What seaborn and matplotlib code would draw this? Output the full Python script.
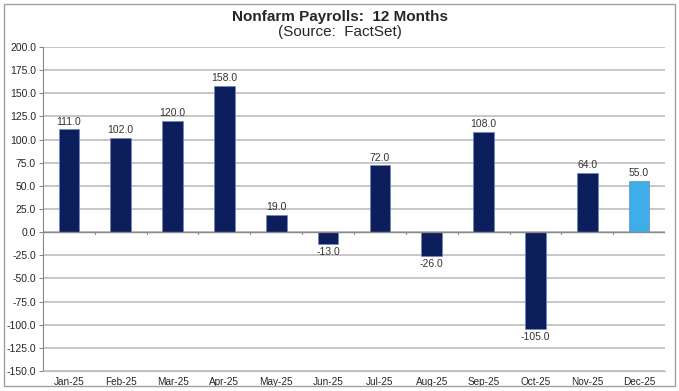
import pandas as pd
import matplotlib.pyplot as plt
import seaborn as sns
from matplotlib.patches import Rectangle

# Monthly nonfarm payroll changes (thousands)
months = ["Jan-25", "Feb-25", "Mar-25", "Apr-25", "May-25", "Jun-25",
          "Jul-25", "Aug-25", "Sep-25", "Oct-25", "Nov-25", "Dec-25"]
payrolls = [111.0, 102.0, 120.0, 158.0, 19.0, -13.0,
            72.0, -26.0, 108.0, -105.0, 64.0, 55.0]
yticks = [200, 175, 150, 125, 100, 75, 50, 25, 0, -25, -50, -75, -100, -125, -150]

navy = "#0c1f5c"
light = "#3daee9"
colors = [navy] * 11 + [light]

df = pd.DataFrame({"Month": months, "Payrolls": payrolls})

sns.set_style("white")
plt.rcParams['font.family'] = ['Liberation Sans', 'DejaVu Sans']

fig = plt.figure(figsize=(6.79, 3.91), dpi=100)
ax = fig.add_axes([43 / 679, 20 / 391, 622 / 679, 324 / 391])

sns.barplot(x="Month", y="Payrolls", data=df, hue="Month", palette=colors,
            order=months, width=0.4, legend=False, ax=ax, saturation=1,
            edgecolor="#6f86c8", linewidth=0.5, zorder=3)

ax.set_ylim(-150, 200)
ax.set_xlim(-0.5, 11.5)
ax.set_yticks(yticks)
ax.set_yticklabels([f"{v:.1f}" for v in yticks], fontsize=7.5)
ax.yaxis.grid(True, color="#bcbcbc", linewidth=1.2, zorder=0)
ax.set_axisbelow(True)
ax.set_xlabel("")
ax.set_ylabel("")
ax.tick_params(axis="y", length=3, color="#888888", pad=2, left=True)
ax.tick_params(axis="x", length=0, labelsize=7.2, pad=4)

for s in ["top", "right"]:
    ax.spines[s].set_visible(False)
ax.spines["left"].set_color("#888888")
ax.spines["bottom"].set_color("#bcbcbc")

# zero line with small category ticks
ax.axhline(0, color="#888888", linewidth=1, zorder=4)
for i in range(13):
    ax.plot([i - 0.5, i - 0.5], [0, -2.5], color="#888888", linewidth=0.8, zorder=4)

# value labels
for i, v in enumerate(payrolls):
    if v >= 0:
        ax.text(i, v + 3, f"{v:.1f}", ha="center", va="bottom", fontsize=7.5, color="#333333")
    else:
        ax.text(i, v - 3, f"{v:.1f}", ha="center", va="top", fontsize=7.5, color="#333333")

fig.text(340 / 679, 1 - 17 / 391, "Nonfarm Payrolls:  12 Months", ha="center", va="center",
         fontsize=11, fontweight="bold")
fig.text(340 / 679, 1 - 32 / 391, "(Source:  FactSet)", ha="center", va="center", fontsize=11)

# outer border
fig.patches.append(Rectangle((4 / 679, 5 / 391), 671 / 679, 382 / 391, transform=fig.transFigure,
                             fill=False, edgecolor="#a0a0a0", linewidth=1))

fig.savefig("out.png", dpi=100)
